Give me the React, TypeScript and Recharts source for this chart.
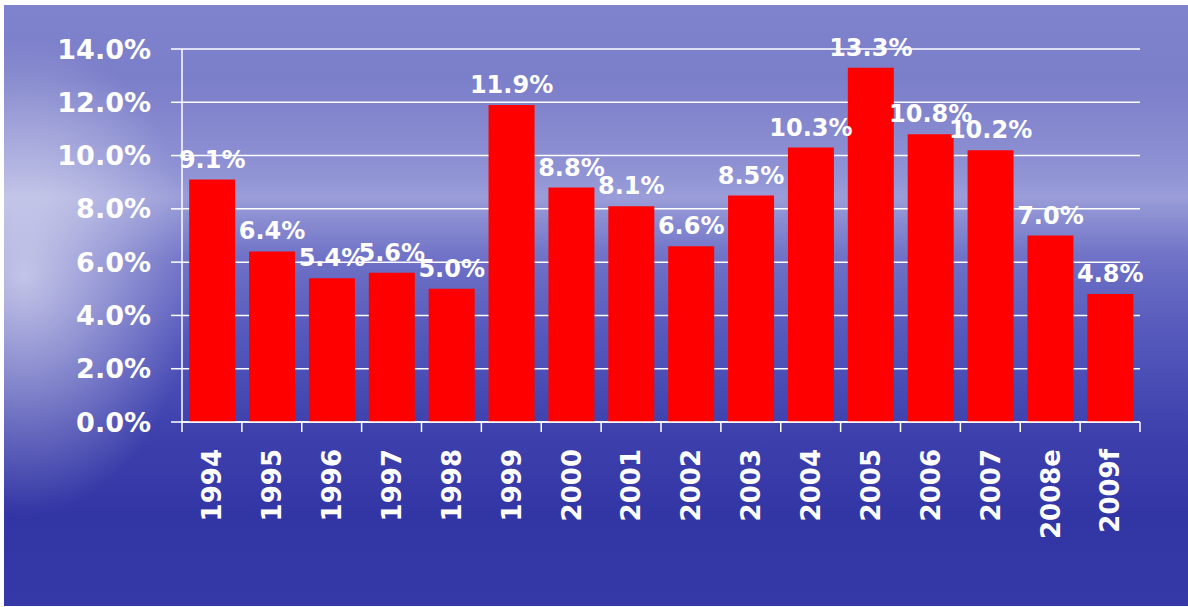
import React from "react";
import { BarChart, Bar, XAxis, YAxis, CartesianGrid, LabelList } from "recharts";

const years = ["1994", "1995", "1996", "1997", "1998", "1999", "2000", "2001", "2002", "2003", "2004", "2005", "2006", "2007", "2008e", "2009f"];
const growth = [9.1, 6.4, 5.4, 5.6, 5.0, 11.9, 8.8, 8.1, 6.6, 8.5, 10.3, 13.3, 10.8, 10.2, 7.0, 4.8];
const yTicks = [0, 2, 4, 6, 8, 10, 12, 14];

const data = years.map((y, i) => ({ year: y, value: growth[i] }));

const FONT = "'DejaVu Sans', Verdana, sans-serif";

const XTick = (props: any) => {
  const { x, y, payload, width, index } = props;
  const half = payload && typeof payload.offset === "number" && payload.offset > 0 ? payload.offset : width / (2 * years.length);
  const isLast = index === years.length - 1;
  return (
    <g>
      <line x1={x - half} y1={y - 8} x2={x - half} y2={y + 2} stroke="#fff" strokeWidth={1.5} />
      {isLast && <line x1={x + half} y1={y - 8} x2={x + half} y2={y + 2} stroke="#fff" strokeWidth={1.5} />}
      <text
        x={x}
        y={y + 19}
        transform={`rotate(-90, ${x}, ${y + 19})`}
        textAnchor="end"
        dy="0.36em"
        fill="#fff"
        fontSize={26}
        fontWeight="bold"
        fontFamily={FONT}
      >
        {payload.value}
      </text>
    </g>
  );
};

export default function App() {
  return (
    <div style={{ position: "absolute", left: 0, top: 0, width: 1188, height: 607, background: "#fff", overflow: "hidden" }}>
      <div
        style={{
          position: "absolute",
          left: 4,
          top: 5,
          width: 1184,
          height: 601,
          background:
            "radial-gradient(ellipse 170px 240px at 20px 270px, rgba(255,255,255,0.6), rgba(255,255,255,0) 100%), " +
            "linear-gradient(180deg, #7f82cc 0%, #7b7ec9 12%, #8e91d3 27%, #9a9dd8 32%, #6f72c6 42%, #5558bb 55%, #3f42ad 70%, #3235a4 85%, #3538a7 100%)",
        }}
      />
      <div style={{ position: "absolute", left: 0, top: 0 }}>
        <BarChart
          width={1188}
          height={607}
          data={data}
          margin={{ top: 49, right: 48, bottom: 63, left: 0 }}
          barCategoryGap="12%"
        >
          <CartesianGrid horizontal={true} vertical={false} stroke="#fff" strokeWidth={1.5} />
          <XAxis
            dataKey="year"
            height={122}
            interval={0}
            axisLine={{ stroke: "#fff", strokeWidth: 1.5 }}
            tickLine={false}
            tick={<XTick />}
          />
          <YAxis
            width={182}
            domain={[0, 14]}
            ticks={yTicks}
            interval={0}
            tickFormatter={(v: number) => v.toFixed(1) + "%"}
            axisLine={{ stroke: "#fff", strokeWidth: 1.5 }}
            tickLine={{ stroke: "#fff", strokeWidth: 1.5 }}
            tickSize={11}
            tickMargin={20}
            tick={{ fill: "#fff", fontSize: 27, fontWeight: "bold", fontFamily: FONT }}
          />
          <Bar dataKey="value" fill="#ff0000" isAnimationActive={false}>
            <LabelList
              dataKey="value"
              position="top"
              offset={12}
              formatter={(v: number) => v.toFixed(1) + "%"}
              fill="#fff"
              fontSize={24}
              fontWeight="bold"
              fontFamily={FONT}
            />
          </Bar>
        </BarChart>
      </div>
    </div>
  );
}
